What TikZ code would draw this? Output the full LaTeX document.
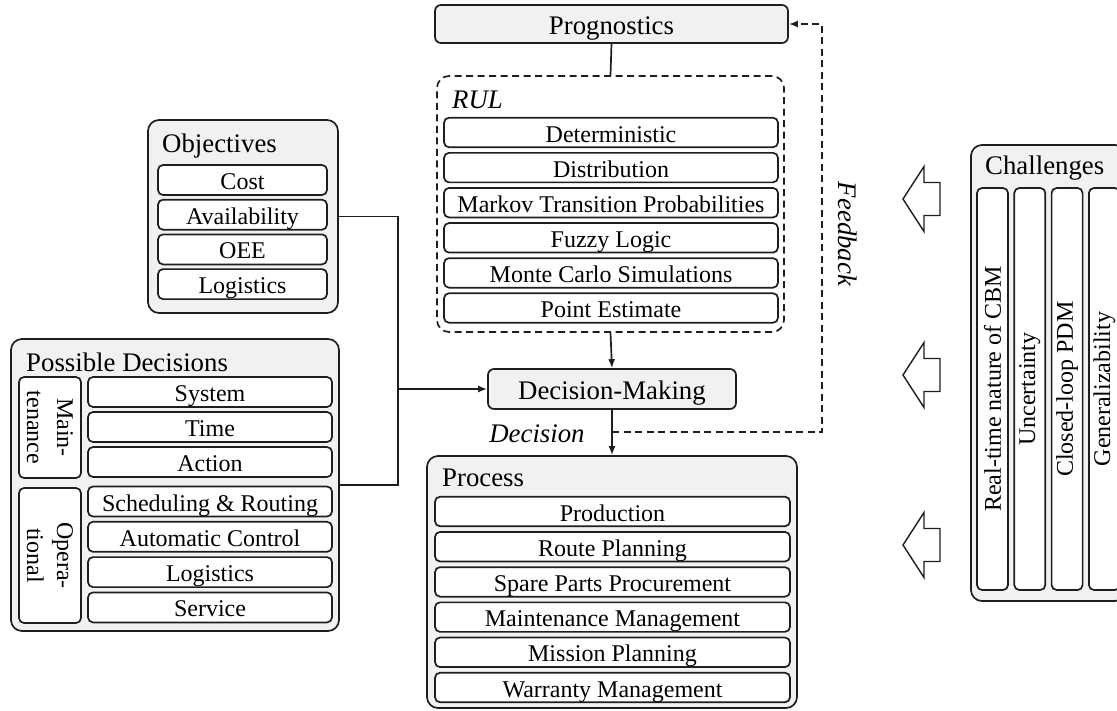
\documentclass[tikz,border=0pt]{standalone}
\usepackage{fontspec}
\setmainfont{Liberation Serif}
\usetikzlibrary{arrows.meta}
\definecolor{boxgray}{HTML}{F1F1F1}
\definecolor{ink}{HTML}{1E1E1E}
\newcommand\hfnt{\fontsize{26.8}{30}\selectfont}
\newcommand\ifnt{\fontsize{24}{30}\selectfont}
\begin{document}
\begin{tikzpicture}[x=1pt,y=-1pt,
  lw/.style={line width=1.7pt, draw=ink},
  outer/.style={lw, fill=boxgray, rounded corners=11pt, inner sep=0pt},
  headbox/.style={lw, fill=boxgray, rounded corners=6pt, inner sep=0pt, font=\hfnt, text height=22pt, text depth=2pt},
  item/.style={lw, fill=white, rounded corners=5pt, inner sep=0pt, font=\ifnt, text height=20pt, text depth=1pt},
  vitem/.style={lw, fill=white, rounded corners=5pt, inner sep=0pt, font=\ifnt},
  heading/.style={font=\hfnt, inner sep=0pt, anchor=base west},
  arr/.style={-{Latex[length=9pt,width=7pt]}},
  dsh/.style={dash pattern=on 7pt off 4.5pt},
]
\useasboundingbox (0,0) rectangle (1117,710);

% ---------- Prognostics ----------
\node[headbox, minimum width=353, minimum height=38] (prog) at (611.5,24) {Prognostics};

% ---------- RUL ----------
\node[lw, dsh, rounded corners=12pt, minimum width=347, minimum height=256, inner sep=0pt] (rul) at (610.5,204) {};
\node[heading, font=\hfnt\itshape] (rull) at (452,108) {RUL};
\foreach \t [count=\i from 0] in {Deterministic,Distribution,Markov Transition Probabilities,Fuzzy Logic,Monte Carlo Simulations,Point Estimate}{
  \node[item, minimum width=334, minimum height=29.5] (r\i) at (611,132.5+35.1*\i) {\t};
}

% ---------- Decision-Making ----------
\node[headbox, minimum width=248, minimum height=40] (dm) at (612,389) {Decision-Making};

% ---------- Process ----------
\node[outer, minimum width=370, minimum height=252] (proc) at (612,582) {};
\node[heading] (procl) at (442,486) {Process};
\foreach \t [count=\i from 0] in {Production,Route Planning,Spare Parts Procurement,Maintenance Management,Mission Planning,Warranty Management}{
  \node[item, minimum width=355, minimum height=29.5] (p\i) at (612.5,511.5+35.2*\i) {\t};
}

% ---------- Objectives ----------
\node[outer, minimum width=190, minimum height=193] (obj) at (243,216.5) {};
\node[heading] (objl) at (162,152) {Objectives};
\foreach \t [count=\i from 0] in {Cost,Availability,OEE,Logistics}{
  \node[item, minimum width=169, minimum height=30] (o\i) at (242.5,180+34.7*\i) {\t};
}

% ---------- Possible Decisions ----------
\node[outer, minimum width=328, minimum height=292] (pd) at (175,485) {};
\node[heading] (pdl) at (26,371) {Possible Decisions};
\node[vitem, minimum width=101, minimum height=62, rotate=-90, align=center] (mt) at (50,427.5) {Main-\\tenance};
\node[vitem, minimum width=135, minimum height=62, rotate=-90, align=center] (op) at (50,555.5) {Opera-\\tional};
\foreach \t [count=\i from 0] in {System,Time,Action}{
  \node[item, minimum width=244, minimum height=30] (m\i) at (210,392+35*\i) {\t};
}
\foreach \t [count=\i from 0] in {Scheduling \& Routing,Automatic Control,Logistics,Service}{
  \node[item, minimum width=244, minimum height=30] (q\i) at (210,501.5+35.3*\i) {\t};
}

% ---------- Challenges ----------
\node[outer, minimum width=155, minimum height=456] (ch) at (1048.5,373) {};
\node[heading] (chl) at (985,174) {Challenges};
\foreach \t [count=\i from 0] in {Real-time nature of CBM,Uncertainty,Closed-loop PDM,Generalizability}{
  \node[vitem, minimum width=402, minimum height=31, rotate=90] (c\i) at (992.5+37.3*\i,389) {\t};
}

% ---------- block arrows ----------
\foreach \y in {199,375,545}{
  \draw[lw, line width=1.4pt, fill=white] (903,\y) -- (924,\y-32.5) -- (924,\y-16.5) -- (940,\y-16.5)
     -- (940,\y+16.5) -- (924,\y+16.5) -- (924,\y+32.5) -- cycle;
}

% ---------- connectors ----------
\draw[lw] (prog.south) -- (rul.north);
\draw[lw, arr] (rul.south) -- (dm.north);
\coordinate (j) at (398,389);
\draw[lw] (obj.east) -| (j);
\draw[lw] (pd.east) -| (j);
\draw[lw, arr] (j) -- (dm.west);
\draw[lw, arr] (dm.south) -- (proc.north);
\node[font=\hfnt\itshape, inner sep=0pt, anchor=base] (decl) at (537,442) {Decision};
\coordinate (fb) at (612,432);
\coordinate (fbc) at (822,432);
\draw[lw, dsh, arr] (fb) -- (fbc) |- (prog.east);
\node[font=\hfnt\itshape, inner sep=0pt, rotate=-90] (fbl) at (848,234) {Feedback};
\end{tikzpicture}
\end{document}
